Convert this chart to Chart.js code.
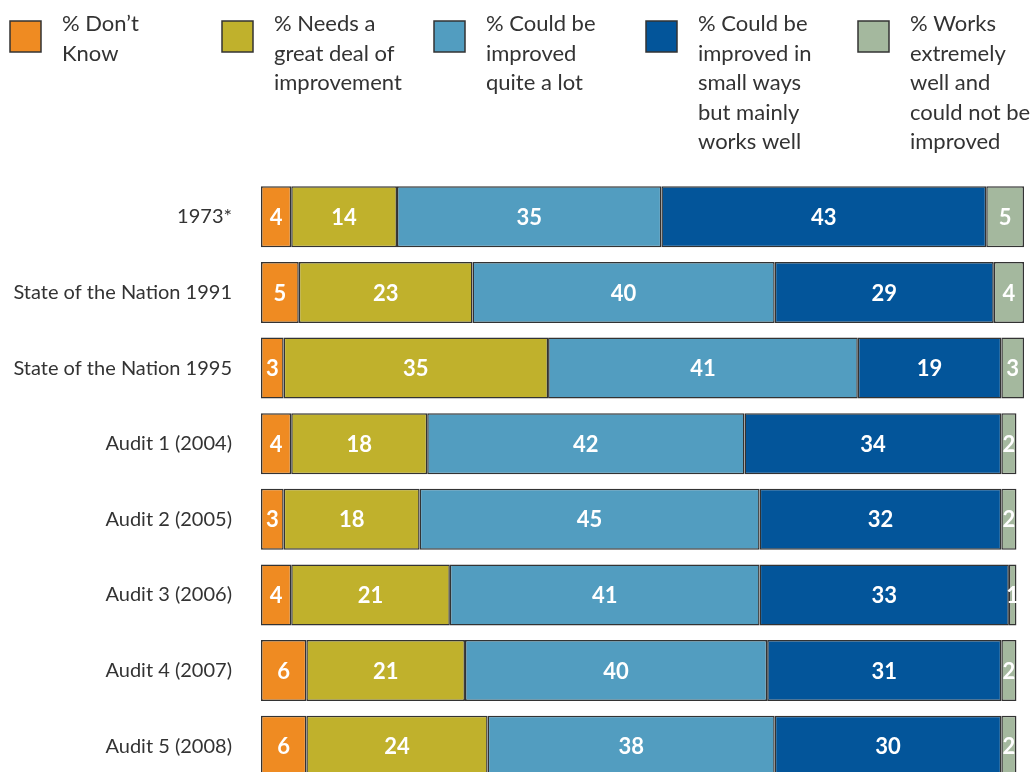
<!DOCTYPE html>
<html>
<head>
<meta charset="utf-8">
<script src="https://cdn.jsdelivr.net/npm/chart.js@4"></script>
<style>
html,body{margin:0;padding:0;background:#fff;overflow:hidden;}
#c{display:block;}
</style>
</head>
<body>
<canvas id="c" width="1033" height="825"></canvas>
<script>
const categories = ["1973*","State of the Nation 1991","State of the Nation 1995","Audit 1 (2004)","Audit 2 (2005)","Audit 3 (2006)","Audit 4 (2007)","Audit 5 (2008)"];
const dontKnow = [4,5,3,4,3,4,6,6];
const needsGreatDeal = [14,23,35,18,18,21,21,24];
const improvedQuiteALot = [35,40,41,42,45,41,40,38];
const improvedSmallWays = [43,29,19,34,32,33,31,30];
const worksExtremelyWell = [5,4,3,2,2,1,2,2];
const seriesLabels = [
  ["% Don\u2019t","Know"],
  ["% Needs a","great deal of","improvement"],
  ["% Could be","improved","quite a lot"],
  ["% Could be","improved in","small ways","but mainly","works well"],
  ["% Works","extremely","well and","could not be","improved"]
];
const colors = ["#EF8B22","#C0B12C","#529DC0","#03559A","#A4B89E"];
const seriesData = [dontKnow, needsGreatDeal, improvedQuiteALot, improvedSmallWays, worksExtremelyWell];
const FONT = "Lato, 'Open Sans', sans-serif";

const legendPlugin = {
  id: 'customLegend',
  afterDraw(chart) {
    const ctx = chart.ctx;
    ctx.save();
    chart.data.datasets.forEach((ds, i) => {
      const x = 10 + i * 212;
      ctx.fillStyle = ds.backgroundColor;
      ctx.fillRect(x, 21, 31, 31);
      ctx.strokeStyle = '#333';
      ctx.lineWidth = 1.5;
      ctx.strokeRect(x, 21, 31, 31);
      ctx.fillStyle = '#333';
      ctx.font = '22px ' + FONT;
      ctx.textAlign = 'left';
      ctx.textBaseline = 'middle';
      seriesLabels[i].forEach((line, j) => {
        ctx.fillText(line, x + 52, 24 + j * 29.6);
      });
    });
    ctx.restore();
  }
};

const valueLabels = {
  id: 'valueLabels',
  afterDatasetsDraw(chart) {
    const ctx = chart.ctx;
    ctx.save();
    ctx.fillStyle = '#fff';
    ctx.font = 'bold 22px ' + FONT;
    ctx.textAlign = 'center';
    ctx.textBaseline = 'middle';
    chart.data.datasets.forEach((ds, i) => {
      const meta = chart.getDatasetMeta(i);
      meta.data.forEach((bar, j) => {
        const cx = (bar.x + bar.base) / 2;
        ctx.fillText(String(ds.data[j]), cx, bar.y + 1);
      });
    });
    ctx.restore();
  }
};

new Chart(document.getElementById('c'), {
  type: 'bar',
  data: {
    labels: categories,
    datasets: seriesData.map((d, i) => ({
      label: seriesLabels[i].join(' '),
      data: d,
      backgroundColor: colors[i],
      borderColor: '#333',
      borderWidth: 1.5,
      borderSkipped: false,
      barPercentage: 0.806,
      categoryPercentage: 1.0
    }))
  },
  options: {
    indexAxis: 'y',
    responsive: false,
    animation: false,
    layout: { padding: { top: 179, bottom: 6, right: 9, left: 0 } },
    plugins: { legend: { display: false }, tooltip: { enabled: false } },
    scales: {
      x: { stacked: true, display: false, min: 0, max: 101 },
      y: {
        stacked: true,
        grid: { display: false, drawTicks: false },
        border: { display: false },
        ticks: { color: '#333', font: { size: 20, family: FONT }, padding: 29 },
        afterFit(scale) { scale.width = 261; }
      }
    }
  },
  plugins: [legendPlugin, valueLabels]
});
</script>
</body>
</html>
